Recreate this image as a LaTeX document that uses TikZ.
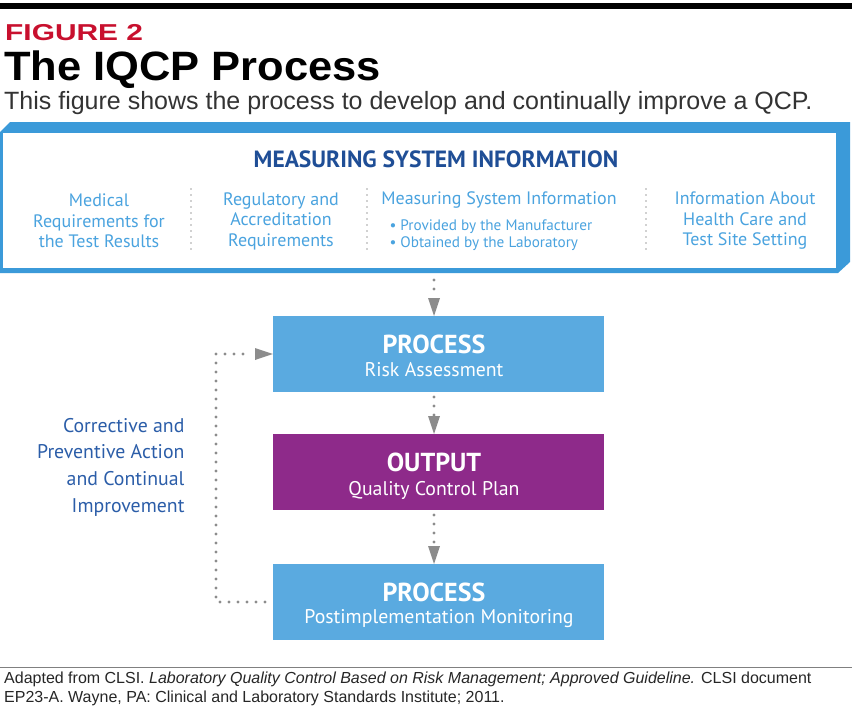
\documentclass[tikz,border=0pt]{standalone}
\usepackage{fontspec}
\setmainfont{Liberation Sans}
\newfontfamily\dfont{PT Sans}
\newfontfamily\widefont[FakeStretch=1.3]{Liberation Sans}
\newfontfamily\titlefont[FakeStretch=1.06]{Liberation Sans}
\usetikzlibrary{arrows.meta}
\definecolor{figred}{HTML}{C8102E}
\definecolor{frameblue}{HTML}{3B9AD9}
\definecolor{boxblue}{HTML}{5AAAE0}
\definecolor{purp}{HTML}{8E2A8A}
\definecolor{darkblue}{HTML}{1F4E96}
\definecolor{lightblue}{HTML}{4AA3DF}
\definecolor{midblue}{HTML}{2B5DA8}
\definecolor{arrgray}{HTML}{8C8C8C}
\tikzset{
 stepbox/.style={draw=none,minimum width=331pt,minimum height=76pt,inner sep=0pt},
 dots/.style={draw=arrgray,line width=3.2pt,dash pattern=on 0pt off 9pt,line cap=round},
 sepdots/.style={draw=arrgray!80,line width=1.8pt,dash pattern=on 0pt off 6pt,line cap=round},
 col/.style={text=lightblue,font=\dfont\fontsize{18}{20.5}\selectfont,align=center},
 tip/.style={-{Triangle[length=11pt,width=13pt]},arrgray,line width=0.1pt},
}
\begin{document}
\begin{tikzpicture}[x=1pt,y=-1pt]
\useasboundingbox (0,0) rectangle (857,710);
\fill (0,3) rectangle (852,9);
\node[anchor=base west,inner sep=0pt,text=figred,font=\widefont\bfseries\fontsize{23}{23}\selectfont] (fig) at (5,40) {FIGURE 2};
\node[anchor=base west,inner sep=0pt,font=\titlefont\bfseries\fontsize{41}{41}\selectfont] (title) at (4,80) {The IQCP Process};
\node[anchor=base west,inner sep=0pt,text=black!80,font=\fontsize{25}{25}\selectfont] (sub) at (4,109) {This figure shows the process to develop and continually improve a QCP.};
% top frame
\fill[frameblue] (0,132) -- (10,122) -- (850,122) -- (850,262) -- (838,273) -- (0,273) -- cycle;
\fill[white] (3,133) rectangle (836,268);
\node[text=darkblue,font=\dfont\bfseries\fontsize{23.5}{24}\selectfont] (msi) at (436,159) {MEASURING SYSTEM INFORMATION};
\node[col] (c1) at (99,221) {Medical\\Requirements for\\the Test Results};
\node[col] (c2) at (281,221) {Regulatory and\\Accreditation\\Requirements};
\node[col] (c3) at (499,200) {Measuring System Information};
\node[col,anchor=west,font=\dfont\fontsize{15.2}{17.5}\selectfont,align=left] (c3b) at (386,235) {• Provided by the Manufacturer\\• Obtained by the Laboratory};
\node[col] (c4) at (745,221) {Information About\\Health Care and\\Test Site Setting};
\foreach \x in {191,367,646} \draw[sepdots] (\x,189) -- (\x,250);
\coordinate (top) at (434,280);
% boxes
\node[stepbox,fill=boxblue] (b1) at (438.5,354) {};
\node[stepbox,fill=purp] (b2) at (438.5,472) {};
\node[stepbox,fill=boxblue] (b3) at (438.5,602) {};
\tikzset{hd/.style={text=white,font=\dfont\bfseries\fontsize{26}{26}\selectfont},sb/.style={text=white,font=\dfont\fontsize{19.8}{20}\selectfont}}
\node[hd] (h1) at (434,344) {PROCESS};
\node[sb] (s1) at (434,370) {Risk Assessment};
\node[hd] (h2) at (434,462) {OUTPUT};
\node[sb] (s2) at (434,490) {Quality Control Plan};
\node[hd] (h3) at (434,592) {PROCESS};
\node[sb] (s3) at (439,619) {Postimplementation Monitoring};
% arrows
\draw[dots] (top) -- (434,298);
\fill[arrgray] (434,316) -- (428,298) -- (440,298) -- cycle;
\draw[dots] (434,397) -- (434,415);
\fill[arrgray] (434,434) -- (428,416) -- (440,416) -- cycle;
\draw[dots] (434,515) -- (434,545);
\fill[arrgray] (434,564) -- (428,546) -- (440,546) -- cycle;
\coordinate (lb) at (216,602);
\coordinate (lt) at (216,354);
\draw[dots] (265,602) -- (lb) -- (lt) -- (250,354);
\fill[arrgray] (b1.west) -- (255,348) -- (255,360) -- cycle;
\node[anchor=east,align=right,text=midblue,font=\dfont\fontsize{19.8}{26.7}\selectfont] (lbl) at (188,467) {Corrective and\\Preventive Action\\and Continual\\Improvement};
% footer
\draw[black!50,line width=0.8pt] (0,667) -- (852,667);
\node[anchor=north west,inner sep=0pt,align=left,text=black!85,font=\fontsize{16}{19}\selectfont] (cap) at (4,672) {Adapted from CLSI. \textit{Laboratory Quality Control Based on Risk Management; Approved Guideline.} CLSI document\\EP23-A. Wayne, PA: Clinical and Laboratory Standards Institute; 2011.};
\end{tikzpicture}
\end{document}
